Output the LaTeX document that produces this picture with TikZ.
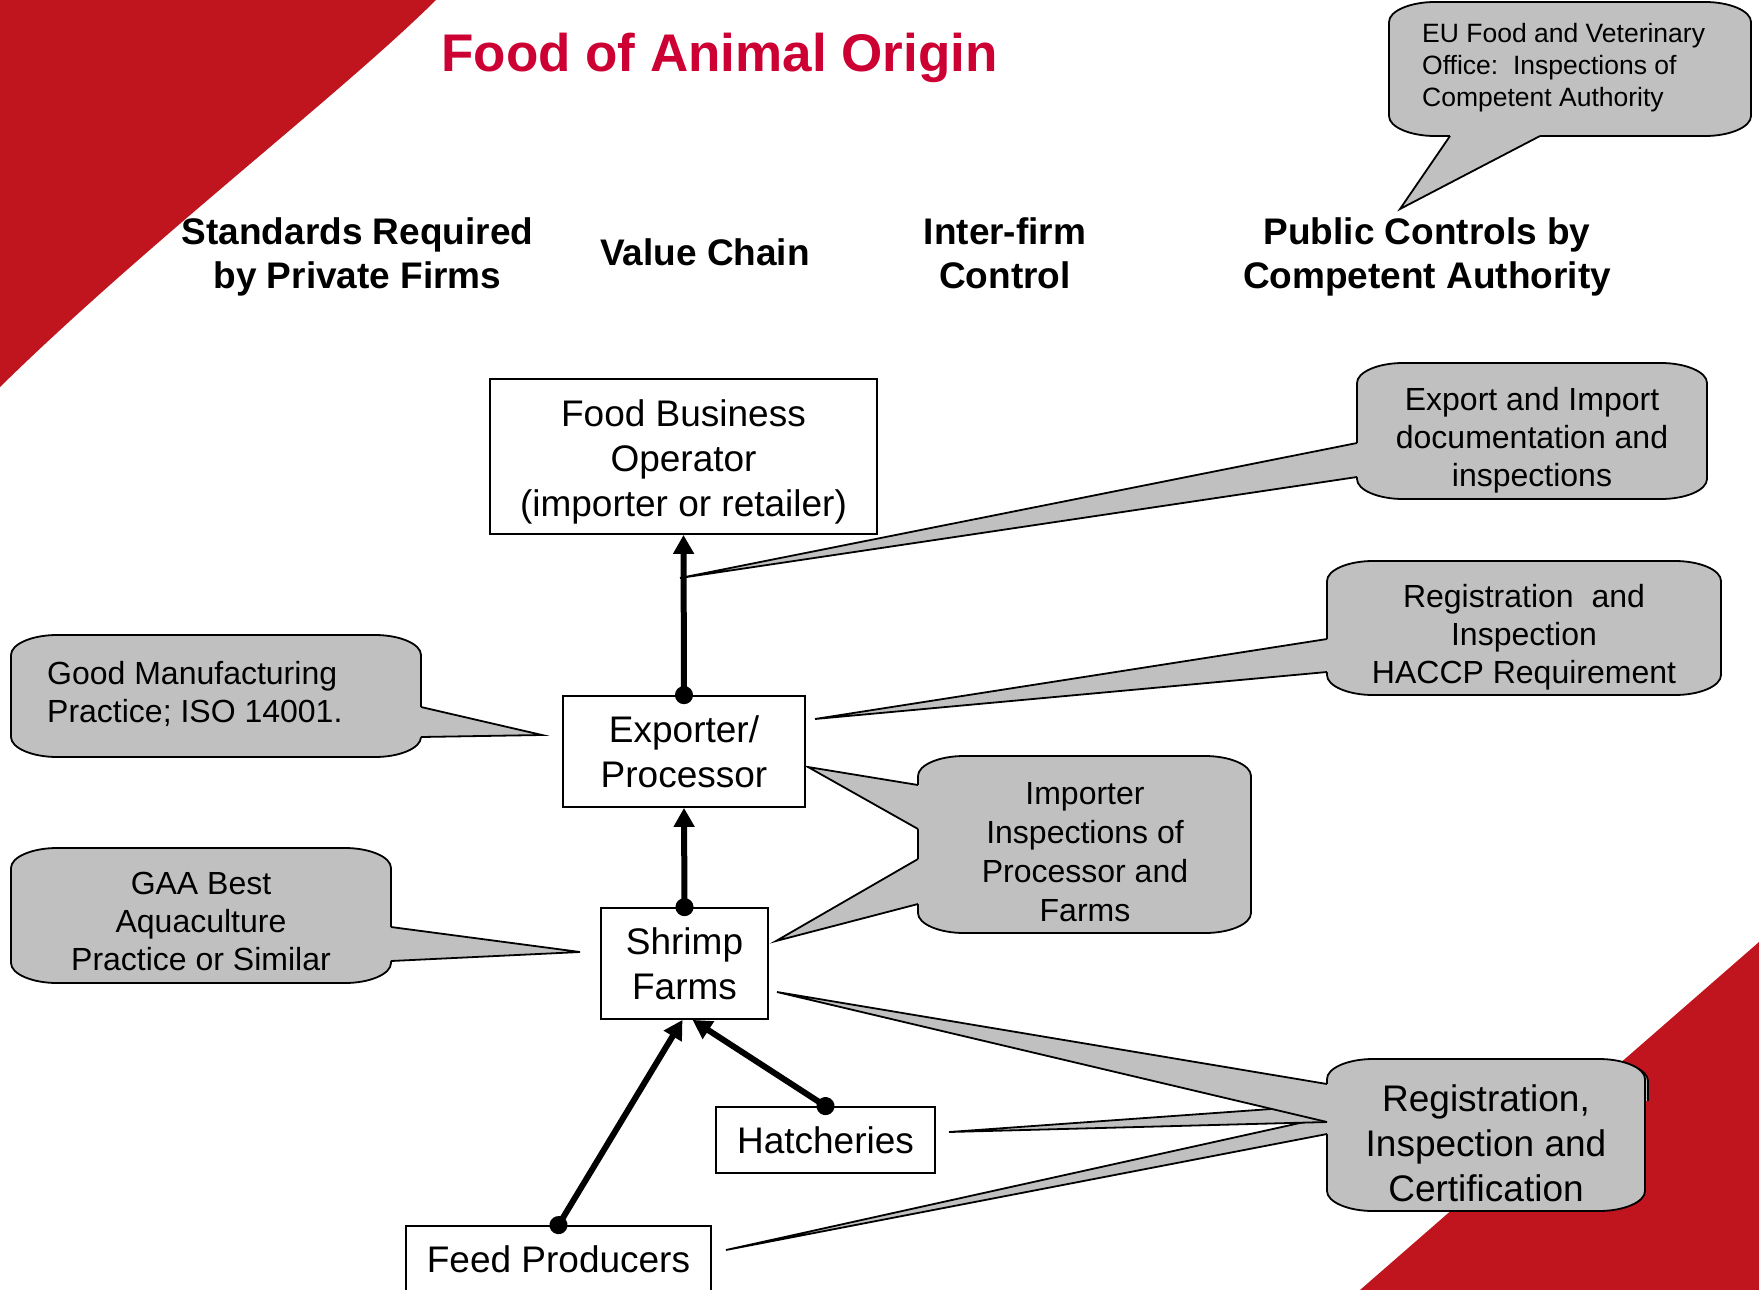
\documentclass[tikz,border=0pt]{standalone}
\usepackage{fontspec}
\setmainfont{Liberation Sans}
\usetikzlibrary{arrows.meta,calc}
\definecolor{cornerred}{RGB}{192,20,30}
\definecolor{titlered}{RGB}{204,0,51}
\definecolor{bubblegray}{RGB}{192,192,192}
\tikzset{
  chainbox/.style={draw, fill=white, line width=1.8pt, inner sep=0pt, align=center,
    font=\fontsize{37}{45}\selectfont},
  flow/.style={line width=6pt, {Circle[length=18pt]}-{Triangle[length=19pt,width=20pt]},
    shorten <=-9pt},
  bubble/.style={fill=bubblegray, draw=black, line width=1.8pt},
  bubbletext/.style={align=center, inner sep=0pt, font=\fontsize{32}{38}\selectfont},
  heading/.style={align=center, inner sep=0pt, font=\bfseries\fontsize{37}{44}\selectfont},
}
\newcommand{\bubblebody}[4]{%
  \filldraw[bubble] (#1+46,#2) -- (#3-46,#2)
    .. controls (#3-21,#2) and (#3,#2+9) .. (#3,#2+20) -- (#3,#4-20)
    .. controls (#3,#4-9) and (#3-21,#4) .. (#3-46,#4) -- (#1+46,#4)
    .. controls (#1+21,#4) and (#1,#4-9) .. (#1,#4-20) -- (#1,#2+20)
    .. controls (#1,#2+9) and (#1+21,#2) .. (#1+46,#2) -- cycle;}
\newcommand{\bubbletail}[4]{%
  \fill[bubblegray] #1 -- #3 -- #2 -- ($#2+#4$) -- ($#1+#4$) -- cycle;
  \draw[line width=1.8pt] #1 -- #3 -- #2;}
\begin{document}
\begin{tikzpicture}[x=1pt, y=-1pt]
  \path[use as bounding box] (0,0) rectangle (1759,1290);
  \clip (0,0) rectangle (1759,1290);

  \fill[cornerred] (0,0) -- (436,0) .. controls (340,95) and (150,240) .. (0,387) -- cycle;
  \fill[cornerred] (1759,942) -- (1759,1290) -- (1360,1290) -- cycle;

  \node[font=\bfseries\fontsize{53}{60}\selectfont, text=titlered, inner sep=0pt] (title)
    at (719.5,58) {Food of Animal Origin};
  \node[heading] (hstd) at (357.5,257) {Standards Required\\by Private Firms};
  \node[heading] (hval) at (705,252.5) {Value Chain};
  \node[heading] (hint) at (1005,253.5) {Inter-firm\\Control};
  \node[heading] (hpub) at (1427,257) {Public Controls by\\Competent Authority};

  \bubblebody{1389}{2}{1751}{136}
  \bubbletail{(1450,136)}{(1540,136)}{(1400,209)}{(0,-4)}
  \node[bubbletext, anchor=west, align=left, font=\fontsize{26.5}{32}\selectfont] (eufvo)
    at (1422,67.5) {EU Food and Veterinary\\Office:\ \ Inspections of\\Competent Authority};

  \bubblebody{1357}{363}{1707}{499}
  \bubbletail{(1357,443)}{(1357,477)}{(680,578)}{(4,0)}
  \node[bubbletext] (expimp) at (1532,440) {Export and Import\\documentation and\\inspections};

  \bubblebody{1327}{561}{1721}{695}
  \bubbletail{(1327,639)}{(1327,672)}{(815,719)}{(4,0)}
  \node[bubbletext] (haccp) at (1524,637.5) {Registration\ \ and\\Inspection\\HACCP Requirement};

  \bubblebody{11}{635}{421}{757}
  \bubbletail{(421,707)}{(421,737)}{(542,735)}{(-4,0)}
  \node[bubbletext, anchor=west, align=left] (gmp) at (47,693.5) {Good Manufacturing\\Practice; ISO 14001.};

  \bubblebody{11}{848}{391}{983}
  \bubbletail{(391,927)}{(391,961)}{(580,952)}{(-4,0)}
  \node[bubbletext] (gaa) at (201,921.5) {GAA Best\\Aquaculture\\Practice or Similar};

  \bubblebody{918}{756}{1251}{933}
  \bubbletail{(918,785)}{(918,829)}{(808,767)}{(4,0)}
  \bubbletail{(918,859)}{(918,904)}{(776,941)}{(4,0)}
  \node[bubbletext, font=\fontsize{32}{39}\selectfont] (imp) at (1085,852)
    {Importer\\Inspections of\\Processor and\\Farms};

  \begin{scope}
    \clip (1560,1045) rectangle (1665,1100);
    \bubblebody{1330}{1061}{1648}{1211}
  \end{scope}
  \bubblebody{1327}{1059}{1645}{1211}
  \bubbletail{(1327,1117)}{(1327,1134)}{(726,1250)}{(4,0)}
  \bubbletail{(1327,1105)}{(1327,1122)}{(949,1132)}{(4,0)}
  \bubbletail{(1327,1084)}{(1327,1122)}{(777,992)}{(4,0)}
  \node[bubbletext, font=\fontsize{37}{45}\selectfont] (cert) at (1486,1143.5)
    {Registration,\\Inspection and\\Certification};

  \node[chainbox, minimum width=387pt, minimum height=155pt, text height=127pt] (fbo) at (683.5,456.5)
    {Food Business\\Operator\\(importer or retailer)};
  \node[chainbox, minimum width=242pt, minimum height=111pt] (exp) at (684,751.5) {Exporter/\\Processor};
  \node[chainbox, minimum width=167pt, minimum height=111pt] (shrimp) at (684.5,963.5) {Shrimp\\Farms};
  \node[chainbox, minimum width=219pt, minimum height=66pt] (hatch) at (825.5,1140) {Hatcheries};
  \node[chainbox, minimum width=305pt, minimum height=66pt] (feed) at (558.5,1259) {Feed Producers};

  \draw[flow] (exp.north) -- (fbo.south);
  \draw[flow] (shrimp.north) -- (exp.south);
  \draw[flow] (hatch.north) -- ($(shrimp.south)+(8,0)$);
  \draw[flow] (feed.north) -- ($(shrimp.south)+(-2,0)$);
\end{tikzpicture}
\end{document}
